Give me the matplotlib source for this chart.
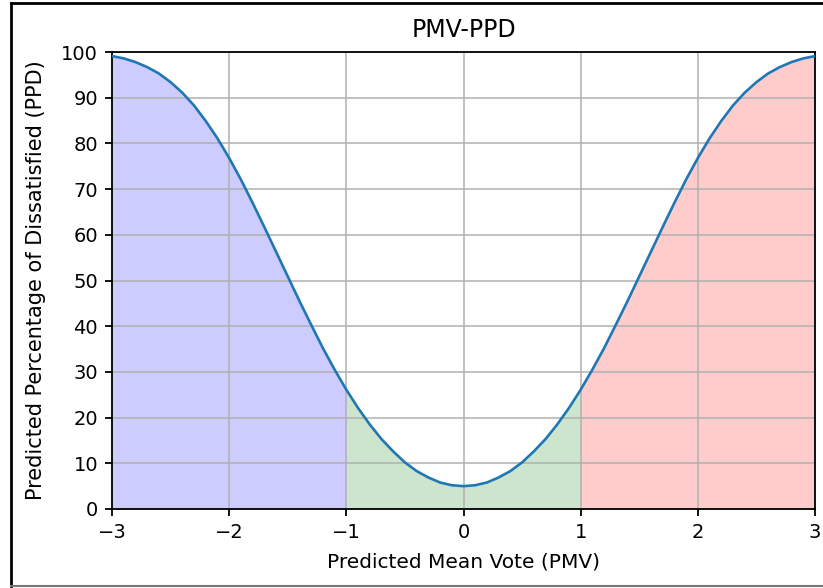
import numpy as np
import matplotlib.pyplot as plt
from matplotlib.lines import Line2D

# PMV values and PPD (symmetric about 0)
pmv_half = [0.0, 0.1, 0.2, 0.3, 0.4, 0.5, 0.6, 0.7, 0.8, 0.9, 1.0,
            1.1, 1.2, 1.3, 1.4, 1.5, 1.6, 1.7, 1.8, 1.9, 2.0,
            2.1, 2.2, 2.3, 2.4, 2.5, 2.6, 2.7, 2.8, 2.9, 3.0]
ppd_half = [5.0, 5.2, 5.8, 6.9, 8.3, 10.2, 12.6, 15.3, 18.5, 22.1, 26.1,
            30.5, 35.2, 40.3, 45.5, 50.9, 56.3, 61.7, 67.0, 72.1, 76.8,
            81.1, 84.9, 88.3, 91.1, 93.4, 95.3, 96.7, 97.8, 98.6, 99.1]

pmv = np.array([-v for v in pmv_half[:0:-1]] + pmv_half)
ppd = np.array(ppd_half[:0:-1] + ppd_half)

fig = plt.figure(figsize=(8.23, 5.88), dpi=100)
ax = fig.add_axes([112 / 823, 1 - 509 / 588, (815 - 112) / 823, (509 - 52) / 588])

# frame around the picture (right side cropped off in the original)
fig.add_artist(Line2D([11 / 823, 1], [1 - 3 / 588] * 2, color='black', lw=2))
fig.add_artist(Line2D([11 / 823] * 2, [1 - 3 / 588, 1 - 586 / 588], color='black', lw=2))
fig.add_artist(Line2D([11 / 823, 1], [1 - 586 / 588] * 2, color='#777777', lw=1.5))

ax.plot(pmv, ppd, lw=1.9, zorder=3)
ax.fill_between(pmv, ppd, where=pmv <= -1, color='blue', alpha=0.2, lw=0)
ax.fill_between(pmv, ppd, where=(pmv >= -1) & (pmv <= 1), color='green', alpha=0.2, lw=0)
ax.fill_between(pmv, ppd, where=pmv >= 1, color='red', alpha=0.2, lw=0)

ax.set_xlim(-3, 3)
ax.set_ylim(0, 100)
ax.set_yticks(range(0, 101, 10))
ax.grid(True, lw=1.1)
for s in ax.spines.values():
    s.set_linewidth(1.3)
ax.set_title('PMV-PPD', fontsize=17, pad=11)
ax.set_xlabel('Predicted Mean Vote (PMV)', fontsize=14.5, labelpad=8)
ax.set_ylabel('Predicted Percentage of Dissatisfied (PPD)', fontsize=15, labelpad=11)
ax.tick_params(labelsize=14, length=5, width=1.3, pad=5)

fig.savefig('out.png', dpi=100)
